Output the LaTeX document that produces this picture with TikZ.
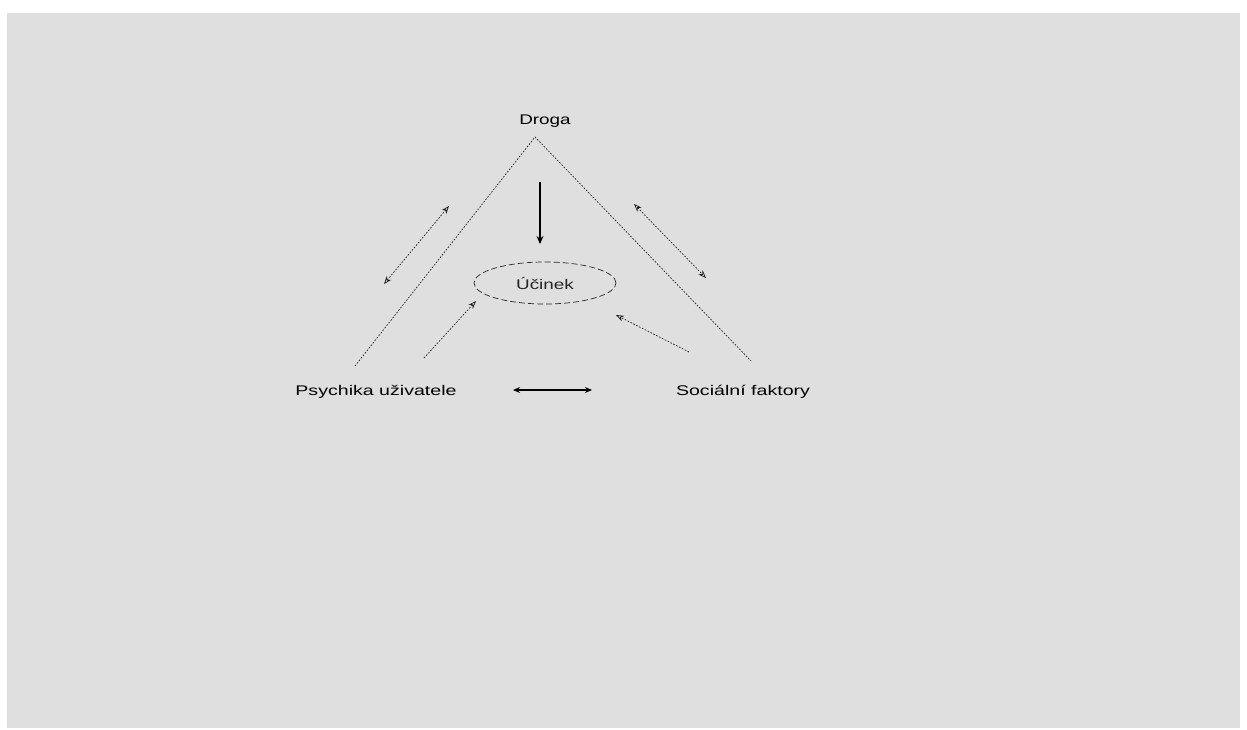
\documentclass[tikz,border=0pt]{standalone}
\usepackage{fontspec}
\setmainfont{Liberation Sans}
\usetikzlibrary{arrows.meta,shapes.geometric}
\definecolor{bgray}{HTML}{DFDFDF}
\begin{document}
\begin{tikzpicture}[x=1pt,y=-1pt,
  lbl/.style={inner sep=0pt, font=\fontsize{14}{16}\selectfont},
  thin line/.style={black!90, line width=0.7pt, dash pattern=on 1.6pt off 1.6pt},
  solid arrow/.style={black, line width=1.1pt, {Stealth[length=7pt,width=6pt]}-{Stealth[length=7pt,width=6pt]}},
  dot arrow/.style={thin line, {Stealth[length=8pt,width=6pt,open]}-{Stealth[length=8pt,width=6pt,open]}},
  ell/.style={draw, black!85, ellipse, line width=0.7pt, dash pattern=on 6pt off 3pt, minimum width=142pt, minimum height=42pt, inner sep=0pt, font=\fontsize{14}{16}\selectfont}]
\useasboundingbox (0,0) rectangle (1247,730);
\fill[white] (0,0) rectangle (1247,730);
\fill[bgray] (7,13) rectangle (1240,728);

\node[lbl] (droga) at (545,121) {\scalebox{1.35}[1]{Droga}};
\node[ell] (ucinek) at (545,283) {\scalebox{1.35}[1]{Účinek}};
\node[lbl] (psych) at (376,392) {\scalebox{1.4}[1]{Psychika uživatele}};
\node[lbl] (soc) at (743,392) {\scalebox{1.4}[1]{Sociální faktory}};

\coordinate (apex) at (535,137);
\coordinate (lbot) at (355,366);
\coordinate (rbot) at (751,361);
\draw[thin line] (lbot) -- (apex) -- (rbot);

\coordinate (da1) at (540,182);
\coordinate (da2) at (540,244);
\draw[black, line width=1.1pt, -{Stealth[length=8pt,width=7pt]}] (da1) -- (da2);

\coordinate (la1) at (449,206);
\coordinate (la2) at (384,284);
\draw[dot arrow] (la1) -- (la2);

\coordinate (ra1) at (634,204);
\coordinate (ra2) at (706,278);
\draw[dot arrow] (ra1) -- (ra2);

\coordinate (pa1) at (424,358);
\coordinate (pa2) at (476,301);
\draw[thin line, -{Stealth[length=8pt,width=6pt,open]}] (pa1) -- (pa2);

\coordinate (sa1) at (689,352);
\coordinate (sa2) at (616,315);
\draw[thin line, -{Stealth[length=8pt,width=6pt,open]}] (sa1) -- (sa2);

\coordinate (ha1) at (513,390);
\coordinate (ha2) at (592,390);
\draw[solid arrow] (ha1) -- (ha2);
\end{tikzpicture}
\end{document}
